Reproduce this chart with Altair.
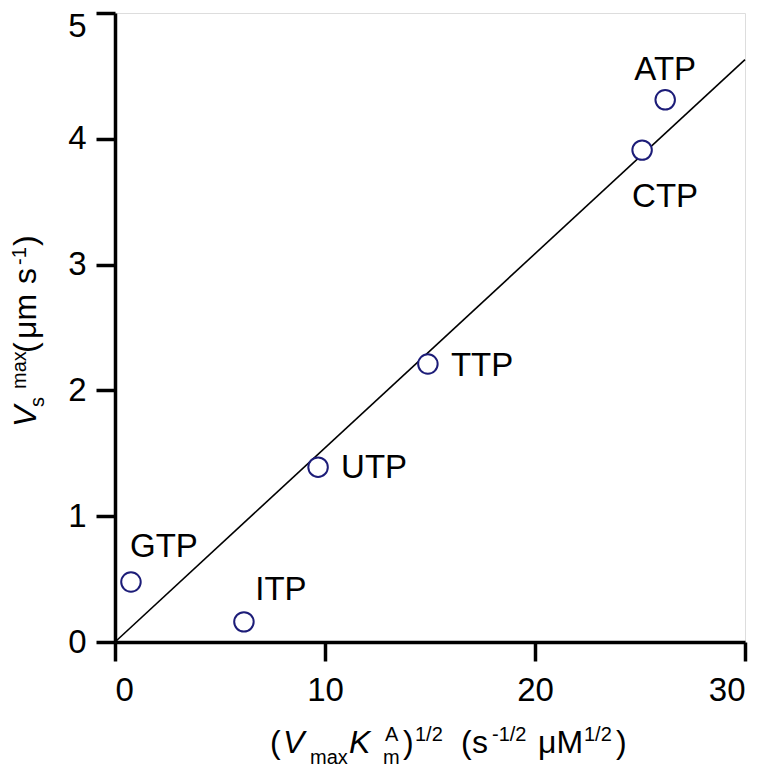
import altair as alt
import pandas as pd

# ---- data ----
nucleotides = ["GTP", "ITP", "UTP", "TTP", "CTP", "ATP"]
x_vals = [0.76, 6.14, 9.67, 14.9, 25.1, 26.2]       # (Vmax Km^A)^1/2
y_vals = [0.477, 0.16, 1.39, 2.21, 3.91, 4.31]      # Vs^max
fit_x = [0, 30]
fit_y = [0, 4.63]
x_ticks = [0, 10, 20, 30]
y_ticks = [0, 1, 2, 3, 4, 5]

FONT = "Liberation Sans"
W, H = 630, 629

pts = pd.DataFrame({"label": nucleotides, "x": x_vals, "y": y_vals})
fit = pd.DataFrame({"x": fit_x, "y": fit_y})

xscale = alt.Scale(domain=[0, 30], nice=False, zero=False)
yscale = alt.Scale(domain=[0, 5], nice=False, zero=False)

axis_common = dict(
    domainColor="black", domainWidth=3.5, tickColor="black", tickWidth=3.5,
    tickSize=19, labelFont=FONT, labelFontSize=33, labelColor="black",
    grid=False, title=None, format="d",
)

line = alt.Chart(fit).mark_line(color="black", strokeWidth=1.6).encode(
    x=alt.X("x:Q", scale=xscale,
            axis=alt.Axis(values=x_ticks, labelPadding=13, **axis_common)),
    y=alt.Y("y:Q", scale=yscale,
            axis=alt.Axis(values=y_ticks, labelPadding=10,
                          labelOffset={"condition": {"test": "datum.value == 5", "value": 13},
                                       "value": 0},
                          **axis_common)),
)

points = alt.Chart(pts).mark_point(
    shape="circle", size=380, filled=False, fill="white", fillOpacity=1,
    stroke="#1c1c78", strokeWidth=2, opacity=1,
).encode(x=alt.X("x:Q", scale=xscale), y=alt.Y("y:Q", scale=yscale))

# label offsets (pixels) relative to each circle
label_layout = {
    "GTP": dict(dx=33, dy=-25, align="center"),
    "ITP": dict(dx=37, dy=-22, align="center"),
    "UTP": dict(dx=23, dy=11, align="left"),
    "TTP": dict(dx=23, dy=12, align="left"),
    "CTP": dict(dx=23, dy=57, align="center"),
    "ATP": dict(dx=0, dy=-20, align="center"),
}
labels = []
for name in nucleotides:
    lay = label_layout[name]
    labels.append(
        alt.Chart(pts).transform_filter(alt.datum.label == name).mark_text(
            font=FONT, fontSize=33, color="black", baseline="alphabetic", **lay
        ).encode(x=alt.X("x:Q", scale=xscale), y=alt.Y("y:Q", scale=yscale),
                 text="label:N")
    )


def txt(s, x, y, size, italic=False, angle=0):
    kw = dict(text=s, font=FONT, fontSize=size, color="black",
              align="left", baseline="alphabetic",
              fontStyle="italic" if italic else "normal")
    if angle:
        kw["angle"] = angle
    return alt.Chart(alt.Data(values=[{}])).mark_text(**kw).encode(
        x=alt.value(x), y=alt.value(y))


BIG, SMALL = 32, 20
# x-axis title: (V_max K_m^A)^1/2 (s^-1/2 µM^1/2)
xb, xsub, xsup = 740, 751, 728
x_title = [
    txt("(", 155, xb, BIG),
    txt("V", 168, xb, BIG, italic=True),
    txt("max", 195, xsub, SMALL),
    txt("K", 234, xb, BIG, italic=True),
    txt("A", 270, xsup, SMALL),
    txt("m", 268, xsub, SMALL),
    txt(")", 288, xb, BIG),
    txt("1/2", 300, xsup, SMALL),
    txt("(", 346, xb, BIG),
    txt("s", 357, xb, BIG),
    txt("-1/2", 377, xsup, SMALL),
    txt("μM", 423, xb, BIG),
    txt("1/2", 469, xsup, SMALL),
    txt(")", 501, xb, BIG),
]

# y-axis title: V_s^max (µm s^-1), rotated
yb, ysub, ysup = -79, -71, -89
y_title = [
    txt("V", yb, 414, BIG, italic=True, angle=270),
    txt("s", ysub, 394, SMALL, angle=270),
    txt("max", ysup, 376, SMALL, angle=270),
    txt("(", yb, 340, BIG, angle=270),
    txt("μm", yb, 326, BIG, angle=270),
    txt("s", yb, 271, BIG, angle=270),
    txt("-1", ysup, 252, SMALL, angle=270),
    txt(")", yb, 233, BIG, angle=270),
]

chart = alt.layer(line, points, *labels, *x_title, *y_title).properties(
    width=W, height=H,
    autosize=alt.AutoSizeParams(type="none"),
    padding={"left": 107, "top": 5, "right": 10, "bottom": 126},
).configure_view(stroke="black", strokeWidth=3.5).configure(background="white")

chart.save("out.html", embed_options={"renderer": "svg", "actions": False})
